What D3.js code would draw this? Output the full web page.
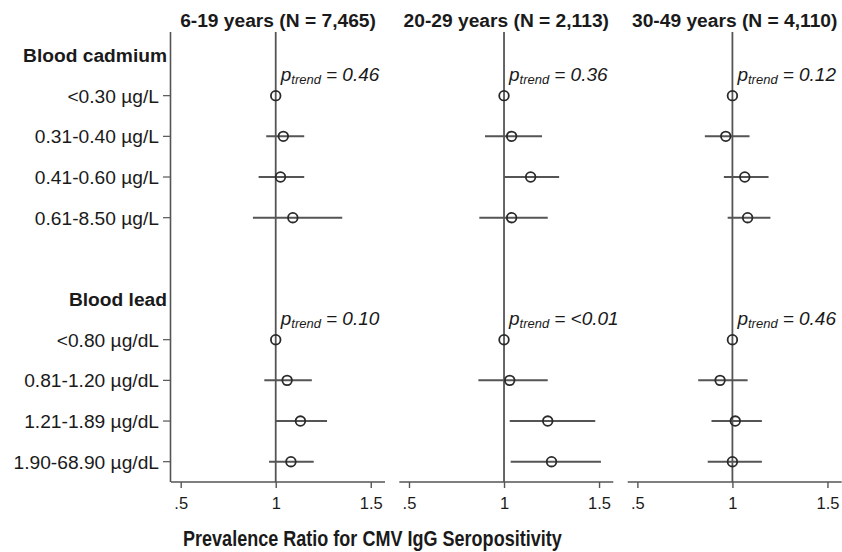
<!DOCTYPE html>
<html><head><meta charset="utf-8">
<script src="https://cdn.jsdelivr.net/npm/d3@7"></script>
<style>body{margin:0;background:#fff}svg{display:block}text{font-family:"Liberation Sans",Arial,sans-serif}</style>
</head><body>
<script>
const panelTitles = ["6-19 years (N = 7,465)", "20-29 years (N = 2,113)", "30-49 years (N = 4,110)"];
const rowLabels = ["Blood cadmium", "<0.30 µg/L", "0.31-0.40 µg/L", "0.41-0.60 µg/L", "0.61-8.50 µg/L", "",
                   "Blood lead", "<0.80 µg/dL", "0.81-1.20 µg/dL", "1.21-1.89 µg/dL", "1.90-68.90 µg/dL"];
const headerRows = [0, 6];
const dataRows = [1, 2, 3, 4, 7, 8, 9, 10];
// point estimates per panel, in dataRows order
const estimates = [
  [1, 1.04, 1.025, 1.09, 1, 1.06, 1.13, 1.08],
  [1, 1.04, 1.14, 1.04, 1, 1.03, 1.23, 1.25],
  [1, 0.965, 1.065, 1.08, 1, 0.935, 1.015, 1.00]
];
const lowerCI = [
  [null, 0.95, 0.91, 0.88, null, 0.94, 1.00, 0.965],
  [null, 0.90, 1.00, 0.87, null, 0.865, 1.03, 1.035],
  [null, 0.855, 0.955, 0.975, null, 0.82, 0.89, 0.87]
];
const upperCI = [
  [null, 1.15, 1.15, 1.35, null, 1.19, 1.27, 1.20],
  [null, 1.20, 1.29, 1.23, null, 1.23, 1.48, 1.51],
  [null, 1.09, 1.19, 1.20, null, 1.08, 1.155, 1.155]
];
const pTrendCadmium = ["0.46", "0.36", "0.12"];
const pTrendLead = ["0.10", "<0.01", "0.46"];
const xTicks = [0.5, 1, 1.5];
const xTickLabels = [".5", "1", "1.5"];
const xTitle = "Prevalence Ratio for CMV IgG Seropositivity";

const W = 842, H = 552;
const svg = d3.select("body").append("svg").attr("width", W).attr("height", H);
const plotTop = 32, plotBottom = 482;
const y = d3.scaleLinear().domain([0, 10]).range([55, 461.7]);
const panelLeft = [171, 399.3, 627.7];
const panelW = 214;
const lineCol = "#555", textCol = "#1a1a1a";

// left axis
svg.append("line").attr("x1", 170.5).attr("x2", 170.5).attr("y1", plotTop).attr("y2", plotBottom)
  .attr("stroke", lineCol).attr("stroke-width", 1.6);
rowLabels.forEach((lab, i) => {
  if (!lab) return;
  const isHeader = headerRows.includes(i);
  svg.append("text").attr("x", isHeader ? 167 : 159).attr("y", y(i)).attr("dy", "0.36em")
    .attr("text-anchor", "end").attr("font-size", 19.2).attr("fill", textCol)
    .attr("font-weight", isHeader ? "bold" : "normal").text(lab);
  if (!isHeader) {
    svg.append("line").attr("x1", 163).attr("x2", 170).attr("y1", y(i)).attr("y2", y(i))
      .attr("stroke", lineCol).attr("stroke-width", 1.2);
  }
});

panelTitles.forEach((title, p) => {
  const x = d3.scaleLinear().domain([0.449, 1.575]).range([panelLeft[p], panelLeft[p] + panelW]);
  const g = svg.append("g");
  g.append("text").attr("x", panelLeft[p] + panelW / 2).attr("y", 27).attr("text-anchor", "middle")
    .attr("font-size", 19.2).attr("font-weight", "bold").attr("fill", textCol).text(title);
  // bottom axis
  const ax = g.append("g").attr("transform", `translate(0,${plotBottom})`)
    .call(d3.axisBottom(x).tickValues(xTicks).tickFormat((d, i) => xTickLabels[i]).tickSize(6).tickPadding(9));
  ax.select(".domain").attr("stroke", lineCol).attr("stroke-width", 1.6).attr("d", `M${x.range()[0]},0H${x.range()[1]}`);
  ax.selectAll(".tick line").attr("stroke", lineCol).attr("stroke-width", 1.4);
  ax.selectAll(".tick text").attr("font-size", 16.5).attr("fill", textCol)
    .attr("font-family", '"Liberation Sans",Arial,sans-serif');
  // reference line
  g.append("line").attr("x1", x(1)).attr("x2", x(1)).attr("y1", plotTop).attr("y2", plotBottom)
    .attr("stroke", lineCol).attr("stroke-width", 1.8);
  // CIs
  dataRows.forEach((r, k) => {
    if (lowerCI[p][k] != null) {
      g.append("line").attr("x1", x(lowerCI[p][k])).attr("x2", x(upperCI[p][k]))
        .attr("y1", y(r)).attr("y2", y(r)).attr("stroke", lineCol).attr("stroke-width", 2);
    }
  });
  dataRows.forEach((r, k) => {
    g.append("circle").attr("cx", x(estimates[p][k])).attr("cy", y(r)).attr("r", 4.8)
      .attr("fill", "none").attr("stroke", "#2a2a2a").attr("stroke-width", 1.8);
  });
  // p-trend
  [[pTrendCadmium[p], 1], [pTrendLead[p], 7]].forEach(([val, r]) => {
    const t = g.append("text").attr("x", x(1) + 5).attr("y", y(r) - 15)
      .attr("font-size", 19).attr("font-style", "italic").attr("fill", textCol);
    t.append("tspan").text("p");
    t.append("tspan").attr("font-size", 13).attr("dy", 3).text("trend");
    t.append("tspan").attr("dy", -3).attr("dx", 5).text("= " + val);
  });
});

svg.append("text").attr("transform", "translate(183,546) scale(0.82,1)")
  .attr("font-size", 22).attr("font-weight", "bold")
  .attr("fill", textCol).text(xTitle);
</script>
</body></html>
